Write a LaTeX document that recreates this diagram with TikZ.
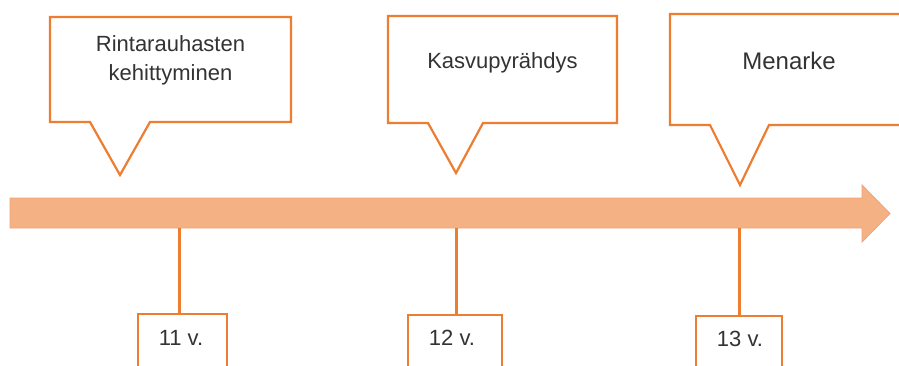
\documentclass[tikz,border=0pt]{standalone}
\usepackage{fontspec}
\setmainfont{Liberation Sans}
\definecolor{orng}{HTML}{ED7D31}
\definecolor{arrfill}{HTML}{F4B183}
\definecolor{arrline}{HTML}{F2A27A}
\definecolor{txt}{HTML}{333333}
\begin{document}
\begin{tikzpicture}[x=1pt,y=-1pt,
  callout/.style={draw=orng, line width=2.2pt, fill=white, line join=miter},
  lbl/.style={font=\fontsize{22}{29}\selectfont, text=txt, align=center, inner sep=0pt},
  yearbox/.style={draw=orng, line width=2.2pt, fill=white, inner sep=0pt},
  tick/.style={draw=orng, line width=3pt},
  timearrow/.style={fill=arrfill, draw=arrline, line width=0.8pt}]
\useasboundingbox (0,0) rectangle (899,365);
\clip (0,0) rectangle (899,365);
\fill[white] (0,0) rectangle (899,365);

% timeline arrow
\path[timearrow] (10,198) -- (862,198) -- (862,185) -- (890,213.5) -- (862,242) -- (862,228) -- (10,228) -- cycle;

% callouts
\path[callout] (50,17) -- (291,17) -- (291,122) -- (150,122) -- (120,175) -- (90,122) -- (50,122) -- cycle;
\path[callout] (388,16) -- (617,16) -- (617,123) -- (483,123) -- (456,173) -- (428,123) -- (388,123) -- cycle;
\path[callout] (670,14) -- (915,14) -- (915,125) -- (769,125) -- (740,185) -- (710,125) -- (670,125) -- cycle;

\node[lbl] (c1) at (170.5,60) {Rintarauhasten\\kehittyminen};
\node[lbl, anchor=base] (c2) at (502.5,68) {Kasvupyrähdys};
\node[lbl, anchor=base, font=\fontsize{24}{29}\selectfont] (c3) at (789,69.5) {Menarke};

% ticks and year boxes
\coordinate (t11) at (179,228);
\coordinate (t12) at (456,228);
\coordinate (t13) at (739,228);
\node[yearbox, minimum width=89pt, minimum height=80pt, anchor=north] (y11) at (182.5,313) {};
\node[yearbox, minimum width=94pt, minimum height=80pt, anchor=north] (y12) at (455,314) {};
\node[yearbox, minimum width=86pt, minimum height=80pt, anchor=north] (y13) at (739,315) {};
\draw[tick] (t11) -- (t11 |- y11.north);
\draw[tick] (t12) -- (t12 |- y12.north);
\draw[tick] (t13) -- (t13 |- y13.north);
\node[lbl, anchor=base] (l11) at (181,345) {11 v.};
\node[lbl, anchor=base] (l12) at (452,345) {12 v.};
\node[lbl, anchor=base] (l13) at (740,346) {13 v.};
\end{tikzpicture}
\end{document}
